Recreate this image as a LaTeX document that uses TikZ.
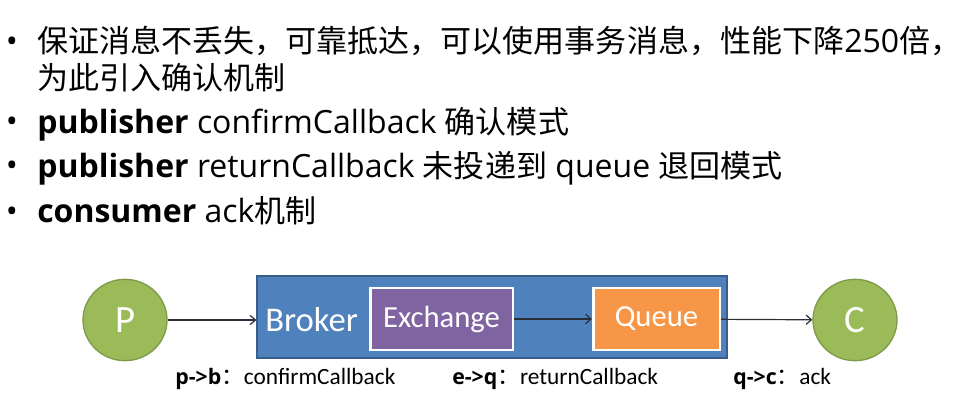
\documentclass[tikz,border=0pt]{standalone}
\usepackage{fontspec}
\setmainfont{Open Sans}
\newfontfamily\cjk[Scale=0.97]{Noto Sans CJK SC}
\newfontfamily\diag{Carlito}
\usetikzlibrary{shapes.geometric,arrows.meta}

\definecolor{vertnoeud}{HTML}{9BBB59}
\definecolor{bordvert}{HTML}{7F9A48}
\definecolor{bleubroker}{HTML}{4F81BD}
\definecolor{bordbleu}{HTML}{385D8A}
\definecolor{violetexch}{HTML}{8064A2}
\definecolor{orangequeue}{HTML}{F79646}
\definecolor{fleche}{HTML}{2A2E36}

\begin{document}
\begin{tikzpicture}[x=0.75pt,y=-0.75pt,
    puce/.style={anchor=base,inner sep=0pt,font=\fontsize{24}{28}\selectfont},
    ligne/.style={anchor=base west,inner sep=0pt,font=\fontsize{24}{28}\selectfont},
    noeud/.style={ellipse,draw=bordvert,line width=1pt,fill=vertnoeud,text=white,
      minimum width=63pt,minimum height=61pt,inner sep=0pt,font=\diag\fontsize{29}{32}\selectfont},
    boite/.style={draw=white,line width=2pt,text=white,minimum width=107pt,minimum height=46.5pt,
      inner sep=0pt,font=\diag\fontsize{23}{28}\selectfont},
    etiquette/.style={anchor=base west,inner sep=0pt,font=\diag\fontsize{17.5}{20}\selectfont},
    lien/.style={-{Straight Barb[length=4pt,width=7pt]},fleche,line width=0.9pt}]

    % Cadre
    \useasboundingbox[fill=white] (0,0) rectangle (971,406);

    % Puces
    \foreach \y/\nom in {53/p1,133/p3,177/p4,223/p5}{
      \node[puce] (\nom) at (12,\y) {•};
    }

    % Texte des puces
    \node[ligne] (l1) at (37,53) {{\cjk 保证消息不丢失，可靠抵达，可以使用事务消息，性能下降}250{\cjk 倍，}};
    \node[ligne] (l2) at (37,90) {\cjk 为此引入确认机制};
    \node[ligne] (l3) at (37,134) {\textbf{publisher} confirmCallback {\cjk 确认模式}};
    \node[ligne] (l4) at (37,178) {\textbf{publisher} returnCallback {\cjk 未投递到} queue {\cjk 退回模式}};
    \node[ligne] (l5) at (37,223) {\textbf{consumer} ack{\cjk 机制}};

    % Schéma
    \node[noeud] (P) at (125,320) {P};
    \node[draw=bordbleu,line width=1pt,fill=bleubroker,minimum width=352.5pt,minimum height=61.5pt] (broker) at (492,317) {};
    \node[anchor=west,text=white,inner sep=0pt,font=\diag\fontsize{26}{30}\selectfont] (lbroker) at (265,320) {Broker};
    \node[boite,fill=violetexch] (exch) at (441.5,319) {Exchange};
    \node[boite,fill=orangequeue,minimum width=95pt] (queue) at (656.5,319) {Queue};
    \node[noeud] (C) at (855,320) {C};

    \draw[lien] (P) -- (P -| broker.west);
    \draw[lien] (exch) -- (queue);
    \draw[lien] (queue) -- (C);

    % Etiquettes
    \node[etiquette] (e1) at (175,384) {{\rmfamily\bfseries\fontsize{16}{20}\selectfont p->b}{\cjk ：}confirmCallback};
    \node[etiquette] (e2) at (452,384) {{\rmfamily\bfseries\fontsize{16}{20}\selectfont e->q}{\cjk ：}returnCallback};
    \node[etiquette] (e3) at (733,384) {{\rmfamily\bfseries\fontsize{16}{20}\selectfont q->c}{\cjk ：}ack};

\end{tikzpicture}
\end{document}
